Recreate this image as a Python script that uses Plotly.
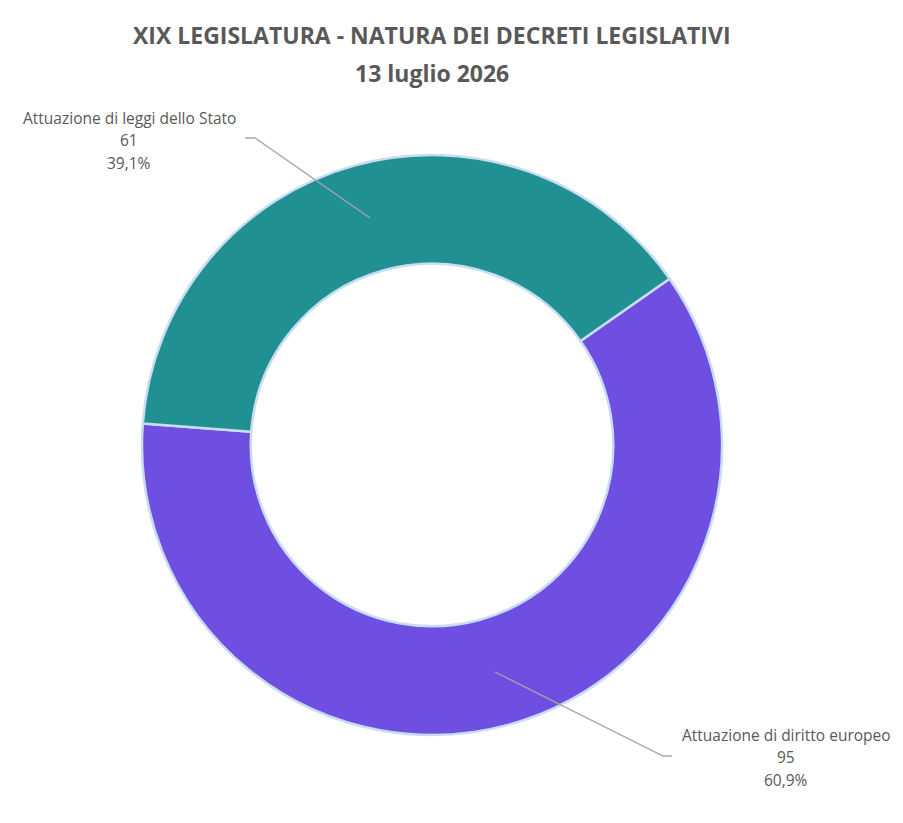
import plotly.graph_objects as go

# dati del grafico
categorie = ["Attuazione di diritto europeo", "Attuazione di leggi dello Stato"]
valori = [95, 61]
percentuali = ["60,9%", "39,1%"]
colori = ["#6f4fe2", "#209092"]

titolo_1 = "XIX LEGISLATURA - NATURA DEI DECRETI LEGISLATIVI"
titolo_2 = "13 luglio 2026"

W, H = 903, 823
OFF = 8  # margine del body nella pagina


def px(x, y):
    # pixel dello schermo -> coordinate paper
    return (x - OFF) / W, 1 - (y - OFF) / H


fig = go.Figure()
x0, y0 = px(142, 735)
x1, y1 = px(722, 155)
fig.add_trace(go.Pie(
    labels=categorie, values=valori,
    hole=0.625, sort=False, direction="clockwise", rotation=55,
    marker=dict(colors=colori, line=dict(color="#c9ddf2", width=2.5)),
    textinfo="none", hoverinfo="label+value+percent",
    domain=dict(x=[x0, x1], y=[y0, y1]),
    showlegend=False,
))

grigio = "#595959"
font_tit = dict(family="Open Sans, Lato, sans-serif", size=23, color=grigio, weight="bold")
for testo, ty in [(titolo_1, 35), (titolo_2, 73)]:
    u, v = px(432, ty)
    fig.add_annotation(x=u, y=v, xref="paper", yref="paper", showarrow=False,
                       text=testo, font=font_tit, xanchor="center", yanchor="middle")

# etichette esterne con linee guida
font_lbl = dict(family="Open Sans, Lato, sans-serif", size=15.5, color=grigio)
etichette = [
    # (indice, posizione testo px, percorso linea px)
    (1, (129, 140), [(370, 218), (255, 138), (245, 138)]),
    (0, (786, 757), [(495, 672), (663, 756), (672, 756)]),
]
for i, (tx, ty), pts in etichette:
    righe = [categorie[i], str(valori[i]), percentuali[i]]
    for r, riga in enumerate(righe):
        u, v = px(tx, ty + (r - 1) * 22.5)
        fig.add_annotation(
            x=u, y=v, xref="paper", yref="paper", showarrow=False,
            text=riga, font=font_lbl, xanchor="center", yanchor="middle",
        )
    path = ""
    for k, (a, b) in enumerate(pts):
        u, v = px(a, b)
        path += ("M" if k == 0 else " L") + f" {u} {v}"
    fig.add_shape(type="path", path=path, xref="paper", yref="paper",
                  line=dict(color="#a6a6a6", width=1.3))

fig.update_layout(
    width=W, height=H,
    margin=dict(l=0, r=0, t=0, b=0),
    paper_bgcolor="white", plot_bgcolor="white",
)

fig.write_html("out.html")
